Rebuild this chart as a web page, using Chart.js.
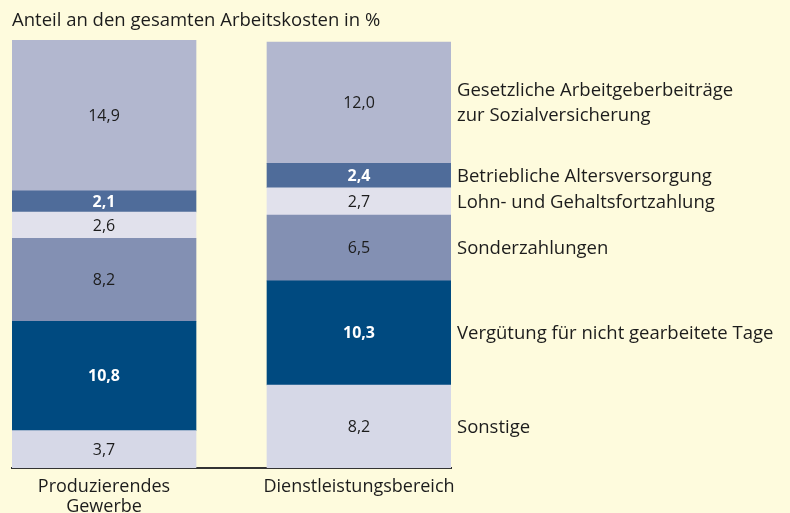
<!DOCTYPE html>
<html>
<head>
<meta charset="utf-8">
<script src="https://cdn.jsdelivr.net/npm/chart.js@4/dist/chart.umd.min.js"></script>
<style>
  body { margin: 0; background: #fefbdd; }
  canvas { display: block; }
</style>
</head>
<body>
<canvas id="kostenChart" width="790" height="513"></canvas>
<script>
const categories = [['Produzierendes', 'Gewerbe'], 'Dienstleistungsbereich'];

const sonstige     = [3.7, 8.2];
const verguetung   = [10.8, 10.3];
const sonder       = [8.2, 6.5];
const lohnFort     = [2.6, 2.7];
const betrieblich  = [2.1, 2.4];
const gesetzlich   = [14.9, 12.0];

const seriesNames = [
  'Sonstige',
  'Vergütung für nicht gearbeitete Tage',
  'Sonderzahlungen',
  'Lohn- und Gehaltsfortzahlung',
  'Betriebliche Altersversorgung',
  ['Gesetzliche Arbeitgeberbeiträge', 'zur Sozialversicherung']
];

const FONT = '"Open Sans", "Liberation Sans", Arial, sans-serif';
const TEXT = '#1c1c1c';

const allSeries = [sonstige, verguetung, sonder, lohnFort, betrieblich, gesetzlich];
const totals = categories.map((c, i) => allSeries.reduce((s, arr) => s + arr[i], 0));
const yMax = Math.max(...totals);

const toPoints = arr => arr.map((v, i) => ({ x: i, y: v }));
const fmt = v => v.toFixed(1).replace('.', ',');

const bar = (name, values, color, dark) => ({
  label: name,
  data: toPoints(values),
  backgroundColor: color,
  borderWidth: 0,
  barThickness: 184,
  valueColor: dark ? '#ffffff' : TEXT,
  valueBold: dark
});

const data = {
  datasets: [
    bar(seriesNames[0], sonstige, '#d6d8e7', false),
    bar(seriesNames[1], verguetung, '#004a80', true),
    bar(seriesNames[2], sonder, '#8390b3', false),
    bar(seriesNames[3], lohnFort, '#e1e1ec', false),
    bar(seriesNames[4], betrieblich, '#4f6c9a', true),
    bar(seriesNames[5], gesetzlich, '#b2b7cf', false)
  ]
};

// value text inside each segment
const valueLabels = {
  id: 'valueLabels',
  afterDatasetsDraw(chart) {
    const ctx = chart.ctx;
    ctx.save();
    ctx.textAlign = 'center';
    ctx.textBaseline = 'middle';
    chart.data.datasets.forEach((ds, di) => {
      const meta = chart.getDatasetMeta(di);
      meta.data.forEach((el, i) => {
        ctx.fillStyle = ds.valueColor;
        ctx.font = (ds.valueBold ? 'bold ' : '') + '16px ' + FONT;
        ctx.fillText(fmt(ds.data[i].y), el.x, (el.y + el.base) / 2 + 1);
      });
    });
    ctx.restore();
  }
};

// series names to the right of the second bar
const sideLabels = {
  id: 'sideLabels',
  afterDatasetsDraw(chart) {
    const ctx = chart.ctx;
    const x = chart.chartArea.right + 6;
    ctx.save();
    ctx.fillStyle = TEXT;
    ctx.font = '18.5px ' + FONT;
    ctx.textAlign = 'left';
    ctx.textBaseline = 'middle';
    chart.data.datasets.forEach((ds, di) => {
      const el = chart.getDatasetMeta(di).data[1];
      const mid = (el.y + el.base) / 2 + 1;
      const lines = Array.isArray(ds.label) ? ds.label : [ds.label];
      const lh = 25;
      lines.forEach((t, k) => {
        ctx.fillText(t, x, mid + (k - (lines.length - 1) / 2) * lh);
      });
    });
    ctx.restore();
  }
};

new Chart(document.getElementById('kostenChart'), {
  type: 'bar',
  data: data,
  plugins: [valueLabels, sideLabels],
  options: {
    responsive: false,
    animation: false,
    layout: { padding: { left: 12, right: 339, top: 0, bottom: 0 } },
    plugins: {
      legend: { display: false },
      tooltip: { enabled: false },
      title: {
        display: true,
        text: 'Anteil an den gesamten Arbeitskosten in %',
        align: 'start',
        color: TEXT,
        font: { family: FONT, size: 18.5, weight: 'normal', lineHeight: 1.2 },
        padding: { top: 10, bottom: 7.8 }
      }
    },
    scales: {
      x: {
        type: 'linear',
        stacked: true,
        offset: false,
        min: -0.3608,
        max: 1.3608,
        grid: { display: false, drawTicks: false },
        border: { display: true, color: '#333333', width: 2 },
        afterFit: s => { s.height = 45; },
        ticks: {
          stepSize: 1,
          includeBounds: false,
          autoSkip: false,
          maxRotation: 0,
          padding: 9,
          color: TEXT,
          font: { family: FONT, size: 18, lineHeight: 1.1 },
          callback: v => categories[v]
        }
      },
      y: {
        stacked: true,
        display: false,
        min: 0,
        max: yMax
      }
    }
  }
});
</script>
</body>
</html>
